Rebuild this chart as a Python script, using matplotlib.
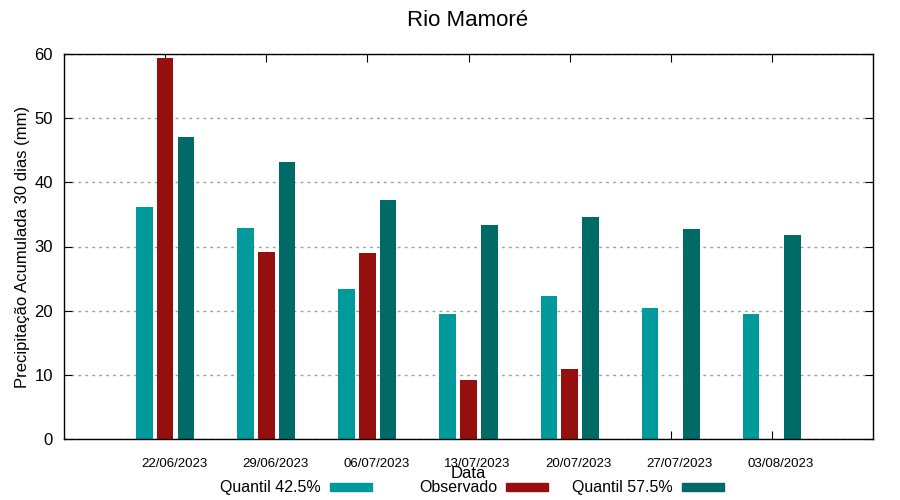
import matplotlib
matplotlib.use("Agg")
import matplotlib.pyplot as plt
import matplotlib.transforms as mtransforms
import numpy as np
from matplotlib.patches import Rectangle

plt.rcParams['font.family'] = ['Liberation Sans', 'DejaVu Sans']

dates = ["22/06/2023", "29/06/2023", "06/07/2023", "13/07/2023",
         "20/07/2023", "27/07/2023", "03/08/2023"]
q425 = [36.2, 32.9, 23.4, 19.5, 22.3, 20.4, 19.5]
observado = [59.4, 29.1, 29.0, 9.2, 10.9, np.nan, np.nan]
q575 = [47.1, 43.2, 37.2, 33.4, 34.6, 32.7, 31.8]

c1 = '#009a9a'
c2 = '#950f0f'
c3 = '#006a66'

fig = plt.figure(figsize=(9, 5), dpi=100)
ax = fig.add_axes([64/900, 61/500, 809/900, 385/500])

x = np.arange(len(dates))
w = 0.165
off = 0.205
ax.bar(x - off, q425, w, color=c1, zorder=3)
ax.bar(x, observado, w, color=c2, zorder=3)
ax.bar(x + off, q575, w, color=c3, zorder=3)

ax.set_xlim(-1, 7)
ax.set_ylim(0, 60)
ax.set_xticks(x)
ax.set_xticklabels(dates, fontsize=9.5)
ax.set_yticks(range(0, 61, 10))
ax.tick_params(axis='y', labelsize=12, direction='in', right=True, length=6, pad=8)
ax.tick_params(axis='x', direction='in', top=True, length=6, pad=14)
shift = mtransforms.ScaledTranslation(9/100, 0, fig.dpi_scale_trans)
for lbl in ax.get_xticklabels():
    lbl.set_transform(lbl.get_transform() + shift)
ax.yaxis.grid(True, color='#a0a0a0', linestyle=(0, (2, 3)), linewidth=1, zorder=0)
for s in ax.spines.values():
    s.set_linewidth(1)
    s.set_zorder(4)

ax.set_ylabel("Precipitação Acumulada 30 dias (mm)", fontsize=12, labelpad=3)
fig.text(468/900, 1 - 474/500, "Data", ha='center', va='center', fontsize=12)
fig.text(468/900, 1 - 20/500, "Rio Mamoré", ha='center', va='center', fontsize=16)

# Legend (gnuplot style: text then sample)
entries = [("Quantil 42.5%", c1, 321), ("Observado", c2, 497), ("Quantil 57.5%", c3, 673)]
for label, col, xr in entries:
    fig.text(xr/900, 1 - 492/500, label, ha='right', va='baseline', fontsize=11.5)
    fig.patches.append(Rectangle(((xr + 9)/900, 1 - 491/500),
                                 42/900, 8/500, transform=fig.transFigure,
                                 color=col, figure=fig))

fig.savefig("out.png", dpi=100)
